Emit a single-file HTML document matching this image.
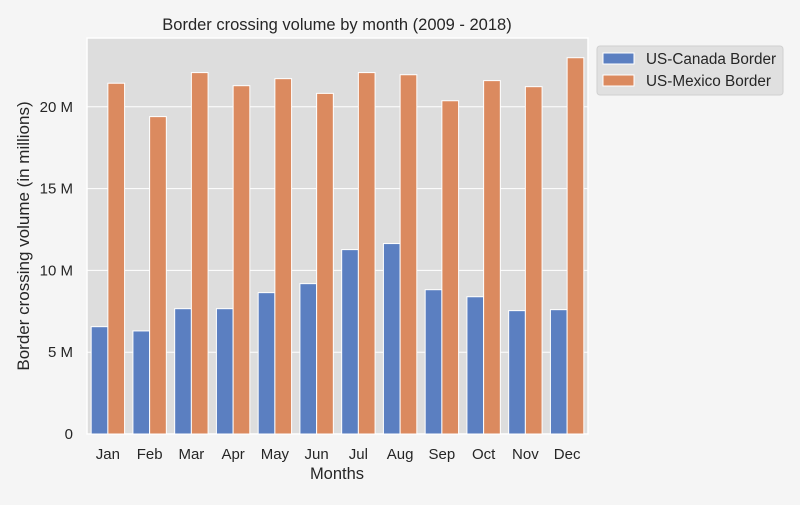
<!DOCTYPE html>
<html><head><meta charset="utf-8"><style>
body{margin:0;background:#f5f5f5;font-family:"Liberation Sans",sans-serif;}
svg text{font-family:"Liberation Sans",sans-serif;fill:#262626;}
</style></head><body>
<svg id="chart" width="800" height="500" xmlns="http://www.w3.org/2000/svg">
<rect width="800" height="500" fill="#f5f5f5"/>
<rect x="87" y="38" width="501" height="396" fill="#dddddd" stroke="#ffffff" stroke-width="1.5"/>
<g id="grid"></g><g id="bars"></g><g id="ticks"></g>
<text x="337" y="30" font-size="16.5" text-anchor="middle">Border crossing volume by month (2009 - 2018)</text>
<text x="337" y="479" font-size="16.5" text-anchor="middle">Months</text>
<text transform="translate(29,236) rotate(-90)" font-size="17" text-anchor="middle">Border crossing volume (in millions)</text>
<g>
<rect x="597" y="46" width="186" height="49" rx="3" fill="#e0e0e0" stroke="#d0d0d0"/>
<rect x="603" y="53" width="31" height="11" fill="#5b7fc1" stroke="#fff"/>
<text x="646" y="64" font-size="15.3">US-Canada Border</text>
<rect x="603" y="75" width="31" height="11" fill="#db8a5f" stroke="#fff"/>
<text x="646" y="86" font-size="15.3">US-Mexico Border</text>
</g>
</svg>
<script>
const months=["Jan","Feb","Mar","Apr","May","Jun","Jul","Aug","Sep","Oct","Nov","Dec"];
const canada=[6.56,6.30,7.66,7.66,8.64,9.19,11.27,11.64,8.82,8.39,7.54,7.60];
const mexico=[21.44,19.40,22.09,21.29,21.72,20.82,22.09,21.96,20.37,21.60,21.23,23.0];
const yTicks=[0,5,10,15,20];
const yTickLabels=["0","5 M","10 M","15 M","20 M"];
const NS="http://www.w3.org/2000/svg";
const X0=87,X1=588,Y0=434,PPM=16.36;
const band=(X1-X0)/months.length;
const xs=i=>X0+band*(i+0.5);
const ys=v=>Y0-v*PPM;
function mk(tag,attrs,parent){const e=document.createElementNS(NS,tag);for(const k in attrs)e.setAttribute(k,attrs[k]);parent.appendChild(e);return e;}
const grid=document.getElementById('grid'),bars=document.getElementById('bars'),ticks=document.getElementById('ticks');
yTicks.forEach((t,i)=>{
 const l=mk('line',{x1:X0,x2:X1,y1:ys(t),y2:ys(t),stroke:'#fff','stroke-width':1},grid);
 
 
 const tx=mk('text',{x:X0-14,y:ys(t)+5,'font-size':15,'text-anchor':'end'},ticks);
 tx.textContent=yTickLabels[i];
 
 
});
const bw=band*0.4;
months.forEach((m,i)=>{
 const c=xs(i);
 const b1=mk('rect',{x:c-bw,y:ys(canada[i]),width:bw,height:canada[i]*PPM,fill:'#5b7fc1',stroke:'#fff','stroke-width':1},bars);
 
 
 const b2=mk('rect',{x:c,y:ys(mexico[i]),width:bw,height:mexico[i]*PPM,fill:'#db8a5f',stroke:'#fff','stroke-width':1},bars);
 
 
 const tx=mk('text',{x:c,y:459,'font-size':15,'text-anchor':'middle'},ticks);
 tx.textContent=m;
 
 
});
</script>
</body></html>
